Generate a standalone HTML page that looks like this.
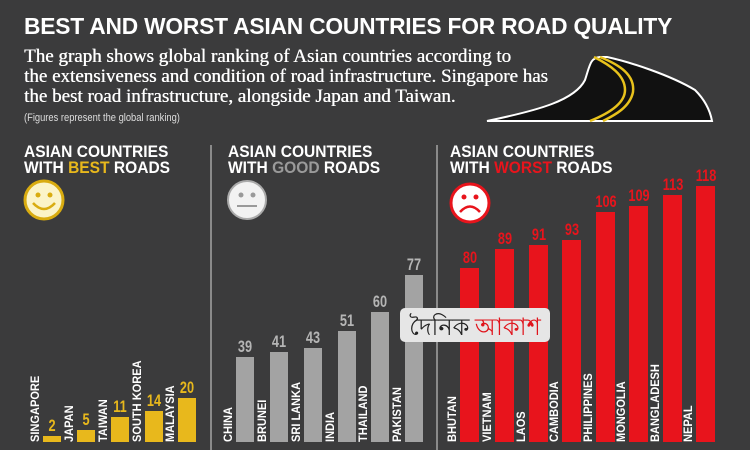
<!DOCTYPE html>
<html><head><meta charset="utf-8"><style>
body{margin:0;width:750px;height:450px;background:#3b3b3c;overflow:hidden;position:relative;font-family:"Liberation Sans",sans-serif}
.a{position:absolute}
.t{left:24px;top:13px;color:#fff;font-weight:bold;font-size:23px;white-space:nowrap;transform:scaleX(0.99);transform-origin:left top;letter-spacing:-0.2px}
.s{left:24px;color:#fff;font-family:"Liberation Serif",serif;font-size:19px;white-space:nowrap;transform:scaleX(1.0);transform-origin:left top;text-shadow:0.4px 0 0 #fff}
.h{color:#fff;font-weight:bold;font-size:17px;line-height:16px;white-space:nowrap;transform:scaleX(0.915);transform-origin:left top}
.bar{position:absolute;bottom:8px}
.v{position:absolute;font-weight:bold;font-size:17px;text-align:center;width:30px;transform:scaleX(0.75)}
.lb{position:absolute;color:#fff;font-weight:bold;font-size:12px;white-space:nowrap;transform-origin:left top;transform:rotate(-90deg) scaleX(0.92)}
.dv{position:absolute;top:145px;width:2px;height:305px;background:#8a8a8a}
</style></head><body>
<div class="a t">BEST AND WORST ASIAN COUNTRIES FOR ROAD QUALITY</div>
<div class="a s" style="top:46px">The graph shows global ranking of Asian countries according to</div>
<div class="a s" style="top:66px">the extensiveness and condition of road infrastructure. Singapore has</div>
<div class="a s" style="top:86px">the best road infrastructure, alongside Japan and Taiwan.</div>
<div class="a" style="left:24px;top:112px;color:#ddd;font-size:11px;transform:scaleX(0.85);transform-origin:left top;white-space:nowrap">(Figures represent the global ranking)</div>
<svg class="a" style="left:480px;top:50px" width="240" height="80">
<path d="M7,71 C60,60 95,50 105,30 C110,15 110,8 120,7 L127,7 C150,12 190,25 215,40 C225,50 230,60 232,71 Z" fill="#111" stroke="#fff" stroke-width="2"/>
<path d="M114,7 C130,15 145,25 145,40 C145,55 125,65 110,71" fill="none" stroke="#e8c21c" stroke-width="2.5"/>
<path d="M120,7 C140,15 155,25 153,42 C150,57 135,65 123,71" fill="none" stroke="#e8c21c" stroke-width="2.5"/>
</svg>
<div class="dv" style="left:210px"></div><div class="dv" style="left:436px"></div>
<div class="a h" style="left:24px;top:144px">ASIAN COUNTRIES<br>WITH <span style="color:#e8b81c">BEST</span> ROADS</div>
<div class="a h" style="left:228px;top:144px">ASIAN COUNTRIES<br>WITH <span style="color:#9a9a9a">GOOD</span> ROADS</div>
<div class="a h" style="left:450px;top:144px">ASIAN COUNTRIES<br>WITH <span style="color:#e8141c">WORST</span> ROADS</div>
<svg class="a" style="left:0;top:175px" width="750" height="60">
<circle cx="44" cy="25" r="19" fill="#fbf4c8" stroke="#d9ac10" stroke-width="3"/>
<circle cx="38" cy="20" r="2.5" fill="#d9ac10"/><circle cx="50" cy="20" r="2.5" fill="#d9ac10"/>
<path d="M33,28 Q44,40 55,28" fill="none" stroke="#d9ac10" stroke-width="2.5"/>
<circle cx="247" cy="25" r="19" fill="#f2f2f2" stroke="#aaa" stroke-width="2"/>
<circle cx="241" cy="20" r="2.5" fill="#999"/><circle cx="253" cy="20" r="2.5" fill="#999"/>
<line x1="237" y1="31" x2="257" y2="31" stroke="#999" stroke-width="2"/>
<circle cx="470" cy="28" r="19" fill="#fff" stroke="#e8141c" stroke-width="3"/>
<circle cx="464" cy="22" r="2.5" fill="#e8141c"/><circle cx="476" cy="22" r="2.5" fill="#e8141c"/>
<path d="M460,37 Q470,26 480,37" fill="none" stroke="#e8141c" stroke-width="2.5"/>
</svg>
<div id="c"></div>
<div class="a" style="left:400px;top:308px;width:150px;height:34px;background:#e6e6e6;border-radius:5px;font-family:'Noto Sans CJK SC','DejaVu Sans',sans-serif;font-size:24px;line-height:34px;color:#222;text-align:center;overflow:hidden">দৈনিক <span style="color:#e0141c">আকাশ</span></div>
<script>
var d=[["SINGAPORE",2,43,436,"#e8b81c"],["JAPAN",5,77,430,"#e8b81c"],["TAIWAN",11,111,417,"#e8b81c"],["SOUTH KOREA",14,145,411,"#e8b81c"],["MALAYSIA",20,178,398,"#e8b81c"],
["CHINA",39,236,357,"#a3a3a3"],["BRUNEI",41,270,352,"#a3a3a3"],["SRI LANKA",43,304,348,"#a3a3a3"],["INDIA",51,338,331,"#a3a3a3"],["THAILAND",60,371,312,"#a3a3a3"],["PAKISTAN",77,405,275,"#a3a3a3"],
["BHUTAN",80,460,268,"#e8141c"],["VIETNAM",89,495,249,"#e8141c"],["LAOS",91,529,245,"#e8141c"],["CAMBODIA",93,562,240,"#e8141c"],["PHILIPPINES",106,596,212,"#e8141c"],["MONGOLIA",109,629,206,"#e8141c"],["BANGLADESH",113,663,195,"#e8141c"],["NEPAL",118,696,186,"#e8141c"]];
var h="";d.forEach(function(r){var w=r[2]>450?19:18;
h+='<div class="bar" style="left:'+r[2]+'px;top:'+r[3]+'px;width:'+w+'px;background:'+r[4]+'"></div>';
h+='<div class="v" style="left:'+(r[2]+w/2-15)+'px;top:'+(r[3]-20)+'px;color:'+(r[4]=="#a3a3a3"?"#b5b5b5":r[4])+'">'+r[1]+'</div>';
h+='<div class="lb" style="left:'+(r[2]-15)+'px;top:442px">'+r[0]+'</div>';});
document.getElementById("c").innerHTML=h;
</script>
</body></html>
